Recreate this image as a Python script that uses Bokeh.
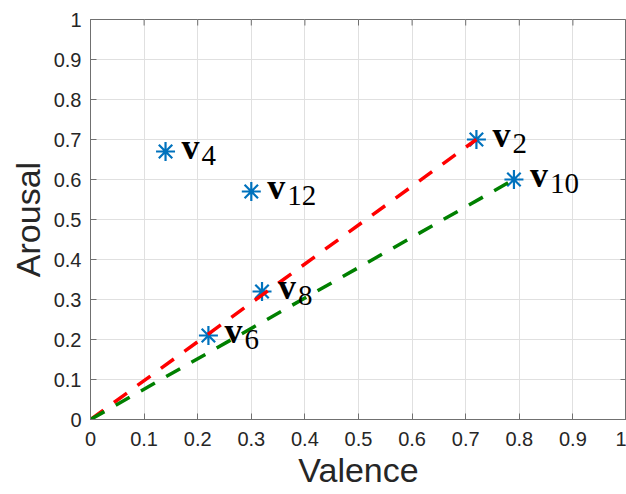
import math
from bokeh.plotting import figure
from bokeh.models import ColumnDataSource, FixedTicker, Range1d
from bokeh.core.properties import value
from bokeh.embed import file_html
from bokeh.resources import INLINE

# ---- data ----
point_ids = ["2", "4", "6", "8", "10", "12"]
valence = [0.72, 0.14, 0.22, 0.32, 0.79, 0.30]
arousal = [0.70, 0.67, 0.21, 0.32, 0.60, 0.57]

red_x = [0.0, 0.72]
red_y = [0.0, 0.70]
green_x = [0.0, 0.79]
green_y = [0.0, 0.60]

tick_values = [0, 0.1, 0.2, 0.3, 0.4, 0.5, 0.6, 0.7, 0.8, 0.9, 1]
tick_labels = ["0", "0.1", "0.2", "0.3", "0.4", "0.5", "0.6", "0.7", "0.8", "0.9", "1"]

x_title = "Valence"
y_title = "Arousal"

src = ColumnDataSource(dict(
    valence=valence,
    arousal=arousal,
    v=["v"] * len(point_ids),
    sub=point_ids,
))

AXIS_COLOR = "#707070"
LABEL_COLOR = "#262626"

p = figure(width=626, height=494,
           x_range=Range1d(0, 1), y_range=Range1d(0, 1),
           output_backend="svg", toolbar_location=None,
           min_border_left=90, min_border_right=0,
           min_border_top=19, min_border_bottom=75)
p.outline_line_color = AXIS_COLOR
p.outline_line_width = 1
p.background_fill_color = "white"
p.border_fill_color = "white"

xax = p.below[0]
yax = p.left[0]
overrides = {t: l for t, l in zip(tick_values, tick_labels)}

for ax in [xax, yax]:
    ax.ticker = FixedTicker(ticks=tick_values)
    ax.major_label_overrides = overrides
    ax.major_tick_in = 6
    ax.major_tick_out = 0
    ax.minor_tick_line_color = None
    ax.axis_line_color = AXIS_COLOR
    ax.major_tick_line_color = AXIS_COLOR
    ax.axis_line_width = 1
    ax.major_label_text_font = "Liberation Sans"
    ax.major_label_text_font_size = "20px"
    ax.major_label_text_color = LABEL_COLOR
    ax.axis_label_text_font = "Liberation Sans"
    ax.axis_label_text_font_size = "34px"
    ax.axis_label_text_font_style = "normal"
    ax.axis_label_text_color = LABEL_COLOR

xax.axis_label = x_title
yax.axis_label = y_title
xax.major_label_standoff = 12
yax.major_label_standoff = 9
xax.axis_label_standoff = 2
yax.axis_label_standoff = 4

p.xgrid.ticker = FixedTicker(ticks=tick_values)
p.ygrid.ticker = FixedTicker(ticks=tick_values)
for g in [p.xgrid[0], p.ygrid[0]]:
    g.grid_line_color = "#e0e0e0"
    g.grid_line_width = 1

# inward ticks on the top and right edges of the box (half of each dash is clipped)
n_ticks = len(tick_values)
p.scatter(x=tick_values, y=[1] * n_ticks, marker="dash", angle=math.pi / 2,
          size=12, line_color=AXIS_COLOR, line_width=1)
p.scatter(x=[1] * n_ticks, y=tick_values, marker="dash", angle=0,
          size=12, line_color=AXIS_COLOR, line_width=1)

# markers
p.scatter(x="valence", y="arousal", source=src, marker="asterisk",
          size=19, line_color="#0072BD", line_width=2.2)

# dashed lines from origin
p.line(red_x, red_y, line_color="#ff0000", line_width=3.5, line_dash="16 13")
p.line(green_x, green_y, line_color="#008000", line_width=3.5, line_dash="16 13")

# point labels: bold v with subscript index
p.text(x="valence", y="arousal", text="v", source=src,
       x_offset=16, y_offset=-5,
       text_font=value("Liberation Serif"), text_font_style="bold",
       text_font_size="36px", text_baseline="alphabetic", text_align="left",
       text_color="black")
p.text(x="valence", y="arousal", text="sub", source=src,
       x_offset=36, y_offset=3.5,
       text_font=value("Liberation Serif"), text_font_style="normal",
       text_font_size="29px", text_baseline="alphabetic", text_align="left",
       text_color="black")

open("out.html", "w").write(file_html(p, INLINE))
